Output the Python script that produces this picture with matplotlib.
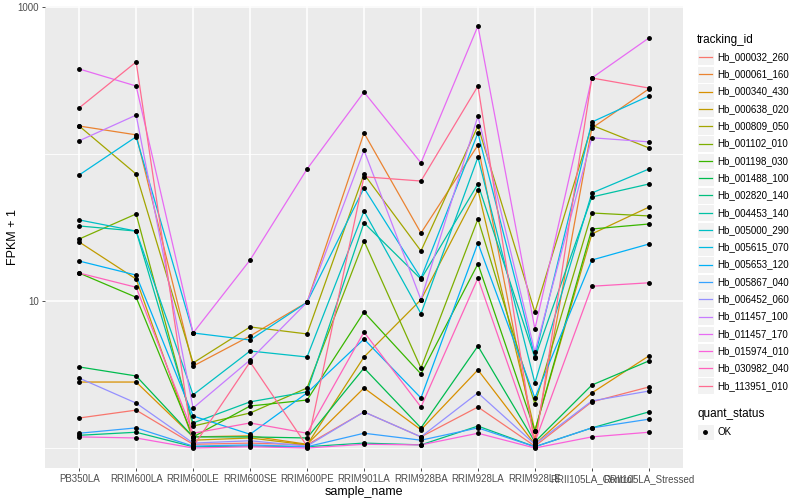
import matplotlib
matplotlib.use('Agg')
import matplotlib.pyplot as plt
from matplotlib.lines import Line2D
from matplotlib.patches import Rectangle
from matplotlib.ticker import FixedLocator, NullFormatter

plt.rcParams['font.family'] = ['Liberation Sans', 'DejaVu Sans']

# sample names on the x axis
samples = ['PB350LA', 'RRIM600LA', 'RRIM600LE', 'RRIM600SE', 'RRIM600PE', 'RRIM901LA',
           'RRIM928BA', 'RRIM928LA', 'RRIM928LE', 'RRII105LA_Control', 'RRII105LA_Stressed']

# FPKM + 1 per gene, one value per sample
hb_000032_260 = [1.60, 1.81, 1.06, 1.08, 1.05, 1.76, 1.19, 1.90, 1.03, 2.06, 2.60]
hb_000061_160 = [155, 135, 3.61, 5.78, 9.8, 139, 29, 115, 1.13, 150, 277]
hb_000340_430 = [2.81, 2.81, 1.19, 1.21, 1.06, 2.56, 1.33, 3.40, 1.06, 2.37, 4.23]
hb_000638_020 = [25.2, 14.1, 1.13, 1.17, 1.05, 4.16, 10.2, 57, 1.31, 28.6, 43.5]
hb_000809_050 = [155, 73, 3.79, 6.66, 5.97, 73, 21.9, 155, 8.4, 157, 110]
hb_001102_010 = [26.4, 39.1, 1.41, 1.73, 2.56, 25.6, 3.50, 36.1, 1.99, 39.7, 37.9]
hb_001198_030 = [15.5, 10.6, 1.19, 1.93, 2.12, 8.4, 3.19, 17.9, 1.31, 30.9, 33.4]
hb_001488_100 = [3.56, 3.09, 1.19, 1.19, 1.17, 3.50, 1.37, 4.94, 1.10, 2.68, 3.91]
hb_002820_140 = [1.22, 1.28, 1.02, 1.03, 1.02, 1.08, 1.05, 1.41, 1.02, 1.37, 1.76]
hb_004453_140 = [32.4, 29.9, 1.48, 2.06, 2.41, 34, 14.1, 62.5, 4.10, 51, 62.5]
hb_005000_290 = [35.6, 29.9, 2.30, 4.57, 4.16, 40.9, 8.2, 95, 2.77, 54.3, 79]
hb_005615_070 = [72, 131, 6.06, 5.43, 9.8, 58.7, 14.3, 139, 4.16, 165, 248]
hb_005653_120 = [18.7, 15, 1.65, 1.24, 2.37, 5.51, 2.19, 24.8, 2.19, 19, 24.4]
hb_005867_040 = [1.26, 1.37, 1.03, 1.05, 1.02, 1.26, 1.13, 1.37, 1.02, 1.37, 1.57]
hb_006452_060 = [2.99, 2.02, 1.08, 1.12, 1.03, 1.76, 1.19, 2.37, 1.06, 2.09, 2.44]
hb_011457_100 = [123, 184, 1.87, 3.97, 9.8, 106, 10.2, 181, 4.50, 129, 121]
hb_011457_170 = [379, 290, 6.06, 19, 79, 264, 87, 743, 6.45, 329, 615]
hb_015974_010 = [1.19, 1.17, 1.00, 1.02, 1.00, 1.06, 1.05, 1.26, 1.00, 1.19, 1.28]
hb_030982_040 = [15.5, 12.4, 1.26, 1.48, 1.26, 6.15, 1.90, 14.3, 1.10, 12.6, 13.3]
hb_113951_010 = [206, 423, 1.02, 3.85, 1.03, 70, 65.5, 290, 1.03, 329, 281]

tracking_ids = ['Hb_000032_260', 'Hb_000061_160', 'Hb_000340_430', 'Hb_000638_020',
                'Hb_000809_050', 'Hb_001102_010', 'Hb_001198_030', 'Hb_001488_100',
                'Hb_002820_140', 'Hb_004453_140', 'Hb_005000_290', 'Hb_005615_070',
                'Hb_005653_120', 'Hb_005867_040', 'Hb_006452_060', 'Hb_011457_100',
                'Hb_011457_170', 'Hb_015974_010', 'Hb_030982_040', 'Hb_113951_010']
series = [hb_000032_260, hb_000061_160, hb_000340_430, hb_000638_020, hb_000809_050,
          hb_001102_010, hb_001198_030, hb_001488_100, hb_002820_140, hb_004453_140,
          hb_005000_290, hb_005615_070, hb_005653_120, hb_005867_040, hb_006452_060,
          hb_011457_100, hb_011457_170, hb_015974_010, hb_030982_040, hb_113951_010]

# ggplot default hue palette for 20 groups
colors = ['#F8766D', '#EA8331', '#D89000', '#C09B00', '#A3A500', '#7CAE00', '#39B600',
          '#00BB4E', '#00BF7D', '#00C1A3', '#00BFC4', '#00BAE0', '#00B0F6', '#35A2FF',
          '#9590FF', '#C77CFF', '#E76BF3', '#FA62DB', '#FF62BC', '#FF6C91']

W, H = 800, 500
fig = plt.figure(figsize=(8, 5), dpi=100)
ax = fig.add_axes([45 / W, 32 / H, 638 / W, 462 / H])
ax.set_facecolor('#EBEBEB')
for s in ax.spines.values():
    s.set_visible(False)

x = list(range(len(samples)))
for vals, c in zip(series, colors):
    ax.plot(x, vals, color=c, lw=0.9, zorder=2)
for vals in series:
    ax.plot(x, vals, 'o', color='black', ms=2.5, zorder=3)

ax.set_yscale('log')
ax.set_ylim(0.731, 1016)
ax.set_xlim(-0.6, 10.6)
ax.yaxis.set_major_locator(FixedLocator([10, 1000]))
ax.yaxis.set_minor_locator(FixedLocator([1, 100]))
ax.yaxis.set_minor_formatter(NullFormatter())
ax.set_yticklabels(['10', '1000'])
ax.set_xticks(x)
ax.set_xticklabels(samples)
ax.grid(which='major', color='white', lw=1.1)
ax.grid(which='minor', axis='y', color='white', lw=0.6)
ax.set_axisbelow(True)
ax.tick_params(which='major', length=2.5, width=0.6, color='#333333',
               labelcolor='#4D4D4D', labelsize=7, pad=2)
ax.tick_params(which='minor', length=0)

ax.set_xlabel('sample_name', fontsize=9, labelpad=1)
ax.set_ylabel('FPKM + 1', fontsize=9)
ax.yaxis.set_label_coords(-0.041, 0.5)

# legend drawn by hand, in pixel positions of the figure
def fx(px):
    return px / W

def fy(py):
    return (H - py) / H

fig.text(fx(697), fy(40), 'tracking_id', fontsize=8.5, va='center', ha='left')
for i, (tid, c) in enumerate(zip(tracking_ids, colors)):
    yc = 57 + i * 17.3
    fig.patches.append(Rectangle((fx(697), fy(yc + 8.3)), 16.5 / W, 16.6 / H,
                                 transform=fig.transFigure, facecolor='#F2F2F2',
                                 edgecolor='white', lw=0.8))
    fig.lines.append(Line2D([fx(699), fx(712)], [fy(yc), fy(yc)], color=c, lw=0.9,
                            transform=fig.transFigure))
    fig.text(fx(717), fy(yc), tid, fontsize=7, va='center', ha='left')

fig.text(fx(697), fy(414), 'quant_status', fontsize=8.5, va='center', ha='left')
fig.patches.append(Rectangle((fx(697), fy(440.3)), 16.5 / W, 16.6 / H,
                             transform=fig.transFigure, facecolor='#F2F2F2',
                             edgecolor='white', lw=0.8))
fig.lines.append(Line2D([fx(705.3)], [fy(432)], marker='o', color='black', ms=2.5,
                        transform=fig.transFigure))
fig.text(fx(717), fy(432), 'OK', fontsize=7, va='center', ha='left')

fig.savefig('out.png', dpi=100)
